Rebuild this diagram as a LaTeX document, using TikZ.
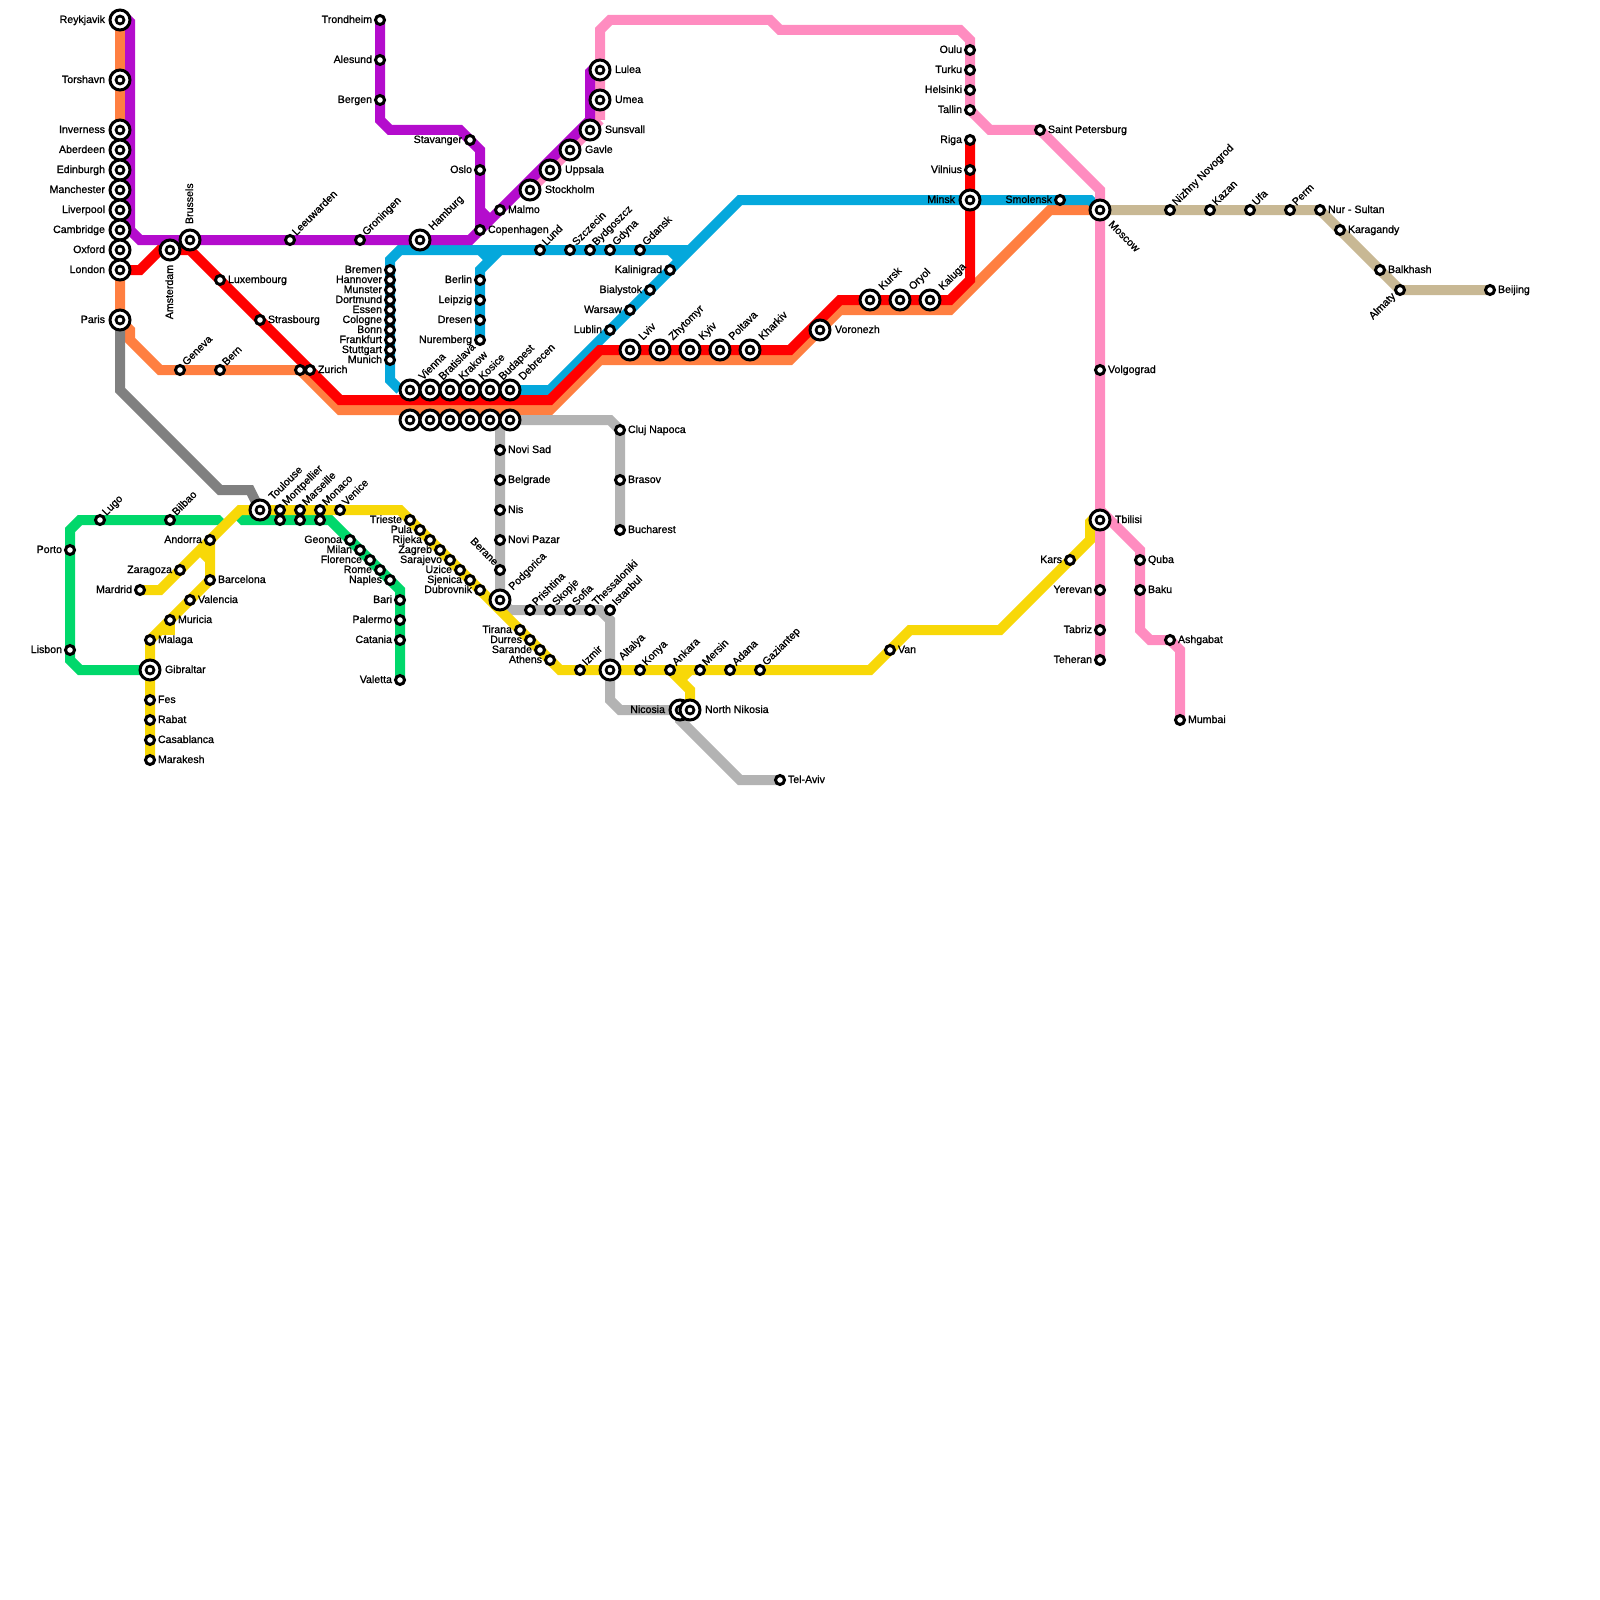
\documentclass[tikz,border=0pt]{standalone}
\usepackage{fontspec}
\newfontfamily\lblfont[FakeBold=1.0]{Liberation Sans}
\pgfdeclarelayer{lines}
\pgfsetlayers{lines,main}
\definecolor{cOrange}{RGB}{255,127,65}
\definecolor{cRed}{RGB}{255,0,0}
\definecolor{cPurple}{RGB}{180,12,205}
\definecolor{cBlue}{RGB}{5,168,220}
\definecolor{cPink}{RGB}{255,140,192}
\definecolor{cGreen}{RGB}{0,216,107}
\definecolor{cYellow}{RGB}{248,216,8}
\definecolor{cGray}{RGB}{128,128,128}
\definecolor{cLight}{RGB}{179,179,179}
\definecolor{cTan}{RGB}{200,184,148}
\tikzset{
  x=1pt,y=-1pt,
  route/.style={line width=10pt,line join=miter,miter limit=10,line cap=butt},
  smst/.style={circle,draw=black,fill=white,line width=3pt,minimum size=9pt,inner sep=0pt,outer sep=0pt},
  bigst/.style={circle,draw=black,fill=white,line width=3pt,minimum size=20pt,inner sep=0pt,outer sep=0pt},
  bigin/.style={circle,draw=black,fill=white,line width=2.7pt,minimum size=8pt,inner sep=0pt,outer sep=0pt},
  lbl/.style={font=\lblfont\fontsize{10.6}{12}\selectfont,text=black,inner sep=0pt,outer sep=0pt},
}
\newcommand{\Sm}[3]{\node[smst] (#1) at (#2,#3) {};}
\newcommand{\Bg}[3]{\node[bigst] (#1) at (#2,#3) {}; \node[bigin] (#1-in) at (#2,#3) {};}
\newcommand{\SR}[4]{\Sm{#1}{#2}{#3}\node[lbl,anchor=base west] (#1-l) at ({#2+8},{#3+3}) {#4};}
\newcommand{\SL}[4]{\Sm{#1}{#2}{#3}\node[lbl,anchor=base east] (#1-l) at ({#2-8},{#3+3}) {#4};}
\newcommand{\SA}[4]{\Sm{#1}{#2}{#3}\node[lbl,anchor=base west,rotate=45] (#1-l) at ({#2+6.5},{#3-4}) {#4};}
\newcommand{\BR}[4]{\Bg{#1}{#2}{#3}\node[lbl,anchor=base west] (#1-l) at ({#2+15},{#3+3}) {#4};}
\newcommand{\BL}[4]{\Bg{#1}{#2}{#3}\node[lbl,anchor=base east] (#1-l) at ({#2-15},{#3+3}) {#4};}
\newcommand{\BA}[4]{\Bg{#1}{#2}{#3}\node[lbl,anchor=base west,rotate=45] (#1-l) at ({#2+13},{#3-9.5}) {#4};}
\begin{document}
\begin{tikzpicture}
\useasboundingbox (0,0) rectangle (1600,1600);
% --- stations
\BL{Reykjavik}{120}{20}{Reykjavik}
\BL{Torshavn}{120}{80}{Torshavn}
\BL{Inverness}{120}{130}{Inverness}
\BL{Aberdeen}{120}{150}{Aberdeen}
\BL{Edinburgh}{120}{170}{Edinburgh}
\BL{Manchester}{120}{190}{Manchester}
\BL{Liverpool}{120}{210}{Liverpool}
\BL{Cambridge}{120}{230}{Cambridge}
\BL{Oxford}{120}{250}{Oxford}
\BL{London}{120}{270}{London}
\BL{Paris}{120}{320}{Paris}
\Bg{Amsterdam}{170}{250}\node[lbl,anchor=base east,rotate=90] (Amsterdam-l) at (173,265) {Amsterdam};
\Bg{Brussels}{190}{240}\node[lbl,anchor=base west,rotate=90] (Brussels-l) at (193,224) {Brussels};
\SR{Luxembourg}{220}{280}{Luxembourg}
\SR{Strasbourg}{260}{320}{Strasbourg}
\SA{Geneva}{180}{370}{Geneva}
\SA{Bern}{220}{370}{Bern}
\Sm{ZurichW}{300}{370}
\SR{Zurich}{310}{370}{Zurich}
\SA{Leeuwarden}{290}{240}{Leeuwarden}
\SA{Groningen}{360}{240}{Groningen}
\BA{Hamburg}{420}{240}{Hamburg}
\SL{Trondheim}{380}{20}{Trondheim}
\SL{Alesund}{380}{60}{Alesund}
\SL{Bergen}{380}{100}{Bergen}
\SL{Stavanger}{470}{140}{Stavanger}
\SL{Oslo}{480}{170}{Oslo}
\SR{Copenhagen}{480}{230}{Copenhagen}
\SR{Malmo}{500}{210}{Malmo}
\BR{Stockholm}{530}{190}{Stockholm}
\BR{Uppsala}{550}{170}{Uppsala}
\BR{Gavle}{570}{150}{Gavle}
\BR{Sunsvall}{590}{130}{Sunsvall}
\BR{Umea}{600}{100}{Umea}
\BR{Lulea}{600}{70}{Lulea}
\SL{Bremen}{390}{270}{Bremen}
\SL{Hannover}{390}{280}{Hannover}
\SL{Munster}{390}{290}{Munster}
\SL{Dortmund}{390}{300}{Dortmund}
\SL{Essen}{390}{310}{Essen}
\SL{Cologne}{390}{320}{Cologne}
\SL{Bonn}{390}{330}{Bonn}
\SL{Frankfurt}{390}{340}{Frankfurt}
\SL{Stuttgart}{390}{350}{Stuttgart}
\SL{Munich}{390}{360}{Munich}
\SL{Berlin}{480}{280}{Berlin}
\SL{Leipzig}{480}{300}{Leipzig}
\SL{Dresen}{480}{320}{Dresen}
\SL{Nuremberg}{480}{340}{Nuremberg}
\SA{Lund}{540}{250}{Lund}
\SA{Szczecin}{570}{250}{Szczecin}
\SA{Bydgoszcz}{590}{250}{Bydgoszcz}
\SA{Gdyna}{610}{250}{Gdyna}
\SA{Gdansk}{640}{250}{Gdansk}
\SL{Kalinigrad}{670}{270}{Kalinigrad}
\SL{Bialystok}{650}{290}{Bialystok}
\SL{Warsaw}{630}{310}{Warsaw}
\SL{Lublin}{610}{330}{Lublin}
\BA{Vienna}{410}{390}{Vienna}
\BA{Bratislava}{430}{390}{Bratislava}
\BA{Krakow}{450}{390}{Krakow}
\BA{Kosice}{470}{390}{Kosice}
\BA{Budapest}{490}{390}{Budapest}
\BA{Debrecen}{510}{390}{Debrecen}
\Bg{LowA}{410}{420}
\Bg{LowB}{430}{420}
\Bg{LowC}{450}{420}
\Bg{LowD}{470}{420}
\Bg{LowE}{490}{420}
\Bg{LowF}{510}{420}
\SR{ClujNapoca}{620}{430}{Cluj Napoca}
\SR{Brasov}{620}{480}{Brasov}
\SR{Bucharest}{620}{530}{Bucharest}
\SR{NoviSad}{500}{450}{Novi Sad}
\SR{Belgrade}{500}{480}{Belgrade}
\SR{Nis}{500}{510}{Nis}
\SR{NoviPazar}{500}{540}{Novi Pazar}
\Sm{Berane}{500}{570}\node[lbl,anchor=base east,rotate=-45] (Berane-l) at (494,566) {Berane};
\BA{Podgorica}{500}{600}{Podgorica}
\SA{Prishtina}{530}{610}{Prishtina}
\SA{Skopje}{550}{610}{Skopje}
\SA{Sofia}{570}{610}{Sofia}
\SA{Thessaloniki}{590}{610}{Thessaloniki}
\SA{Istanbul}{610}{610}{Istanbul}
\SL{Tirana}{520}{630}{Tirana}
\SL{Durres}{530}{640}{Durres}
\SL{Sarande}{540}{650}{Sarande}
\SL{Athens}{550}{660}{Athens}
\SA{Izmir}{580}{670}{Izmir}
\BA{Altalya}{610}{670}{Altalya}
\SA{Konya}{640}{670}{Konya}
\SA{Ankara}{670}{670}{Ankara}
\SA{Mersin}{700}{670}{Mersin}
\SA{Adana}{730}{670}{Adana}
\SA{Gaziantep}{760}{670}{Gaziantep}
\BL{Nicosia}{680}{710}{Nicosia}
\BR{NorthNikosia}{690}{710}{North Nikosia}
\SR{TelAviv}{780}{780}{Tel-Aviv}
\SR{Van}{890}{650}{Van}
\SA{Lugo}{100}{520}{Lugo}
\SA{Bilbao}{170}{520}{Bilbao}
\SL{Porto}{70}{550}{Porto}
\SL{Lisbon}{70}{650}{Lisbon}
\BR{Gibraltar}{150}{670}{Gibraltar}
\SR{Malaga}{150}{640}{Malaga}
\SR{Fes}{150}{700}{Fes}
\SR{Rabat}{150}{720}{Rabat}
\SR{Casablanca}{150}{740}{Casablanca}
\SR{Marakesh}{150}{760}{Marakesh}
\SL{Andorra}{210}{540}{Andorra}
\SL{Zaragoza}{180}{570}{Zaragoza}
\SL{Mardrid}{140}{590}{Mardrid}
\SR{Barcelona}{210}{580}{Barcelona}
\SR{Valencia}{190}{600}{Valencia}
\SR{Muricia}{170}{620}{Muricia}
\BA{Toulouse}{260}{510}{Toulouse}
\SA{Montpellier}{280}{510}{Montpellier}
\SA{Marseille}{300}{510}{Marseille}
\SA{Monaco}{320}{510}{Monaco}
\SA{Venice}{340}{510}{Venice}
\Sm{GreenA}{280}{520}
\Sm{GreenB}{300}{520}
\Sm{GreenC}{320}{520}
\SL{Geonoa}{350}{540}{Geonoa}
\SL{Milan}{360}{550}{Milan}
\SL{Florence}{370}{560}{Florence}
\SL{Rome}{380}{570}{Rome}
\SL{Naples}{390}{580}{Naples}
\SL{Bari}{400}{600}{Bari}
\SL{Palermo}{400}{620}{Palermo}
\SL{Catania}{400}{640}{Catania}
\SL{Valetta}{400}{680}{Valetta}
\SL{Trieste}{410}{520}{Trieste}
\SL{Pula}{420}{530}{Pula}
\SL{Rijeka}{430}{540}{Rijeka}
\SL{Zagreb}{440}{550}{Zagreb}
\SL{Sarajevo}{450}{560}{Sarajevo}
\SL{Uzice}{460}{570}{Uzice}
\SL{Sjenica}{470}{580}{Sjenica}
\SL{Dubrovnik}{480}{590}{Dubrovnik}
\BA{Lviv}{630}{350}{Lviv}
\BA{Zhytomyr}{660}{350}{Zhytomyr}
\BA{Kyiv}{690}{350}{Kyiv}
\BA{Poltava}{720}{350}{Poltava}
\BA{Kharkiv}{750}{350}{Kharkiv}
\BR{Voronezh}{820}{330}{Voronezh}
\BA{Kursk}{870}{300}{Kursk}
\BA{Oryol}{900}{300}{Oryol}
\BA{Kaluga}{930}{300}{Kaluga}
\SL{Oulu}{970}{50}{Oulu}
\SL{Turku}{970}{70}{Turku}
\SL{Helsinki}{970}{90}{Helsinki}
\SL{Tallin}{970}{110}{Tallin}
\SL{Riga}{970}{140}{Riga}
\SL{Vilnius}{970}{170}{Vilnius}
\BL{Minsk}{970}{200}{Minsk}
\SL{Smolensk}{1060}{200}{Smolensk}
\SR{SaintPetersburg}{1040}{130}{Saint Petersburg}
\Bg{Moscow}{1100}{210}\node[lbl,anchor=base west,rotate=-45] (Moscow-l) at (1108,225) {Moscow};
\SA{Nizhny}{1170}{210}{Nizhny Novogrod}
\SA{Kazan}{1210}{210}{Kazan}
\SA{Ufa}{1250}{210}{Ufa}
\SA{Perm}{1290}{210}{Perm}
\SR{NurSultan}{1320}{210}{Nur - Sultan}
\SR{Karagandy}{1340}{230}{Karagandy}
\SR{Balkhash}{1380}{270}{Balkhash}
\Sm{Almaty}{1400}{290}\node[lbl,anchor=base east,rotate=45] (Almaty-l) at (1396,297) {Almaty};
\SR{Beijing}{1490}{290}{Beijing}
\SR{Volgograd}{1100}{370}{Volgograd}
\BR{Tbilisi}{1100}{520}{Tbilisi}
\SL{Kars}{1070}{560}{Kars}
\SL{Yerevan}{1100}{590}{Yerevan}
\SL{Tabriz}{1100}{630}{Tabriz}
\SL{Teheran}{1100}{660}{Teheran}
\SR{Quba}{1140}{560}{Quba}
\SR{Baku}{1140}{590}{Baku}
\SR{Ashgabat}{1170}{640}{Ashgabat}
\SR{Mumbai}{1180}{720}{Mumbai}
% --- free line ends
\coordinate (purpleTop) at (130,20);
\coordinate (purpleEnd) at (490,220);
\coordinate (greenEndW) at (220,520);
\coordinate (greenEndE) at (241,520);
\coordinate (blueHubA) at (690,250);
\coordinate (blueHubB) at (680,260);
\coordinate (blueTopA) at (400,250);
\coordinate (blueBerlin) at (500,250);
\coordinate (blueNotch) at (490,260);
\coordinate (yellowNotch) at (200,550);
\coordinate (yellowFork) at (210,560);
% --- routes
\begin{pgfonlayer}{lines}
\draw[route,cOrange] (Reykjavik.center) -- (Paris.center) -- (130,330) -- (130,340) -- (160,370) -- (300,370) -- (340,410) -- (550,410) -- (600,360) -- (790,360) -- (840,310) -- (950,310) -- (1050,210) -- (Moscow.center);
\draw[route,cGray] (Paris.center) -- (120,390) -- (220,490) -- (250,490) -- (Toulouse.center);
\draw[route,cLight] (LowF.center) -- (610,420) -- (ClujNapoca.center) -- (Bucharest.center);
\draw[route,cLight] (500,420) -- (Podgorica.center) -- (510,610) -- (600,610) -- (610,620) -- (610,700) -- (620,710) -- (Nicosia.center) -- (680,720) -- (740,780) -- (TelAviv.center);
\draw[route,cBlue] (400,390) -- (390,380) -- (390,260) -- (blueTopA) -- (blueHubA);
\draw[route,cBlue] (400,390) -- (Debrecen.center) -- (550,390) -- (740,200) -- (1090,200) -- (Moscow.center);
\draw[route,cBlue] (670,250) -- (blueHubB);
\draw[route,cBlue] (Nuremberg.center) -- (480,270) -- (blueBerlin);
\draw[route,cBlue] (480,250) -- (blueNotch);
\draw[route,cGreen] (Gibraltar.center) -- (80,670) -- (70,660) -- (70,530) -- (80,520) -- (greenEndW);
\fill[cGreen] (220,515) -- (225,520) -- (220,525) -- cycle;
\draw[route,cGreen] (greenEndE) -- (330,520) -- (400,590) -- (Valetta.center);
\fill[cGreen] (241,515) -- (236,520) -- (241,525) -- cycle;
\draw[route,cYellow] (Marakesh.center) -- (Malaga.center) -- (Barcelona.center) -- (Andorra.center);
\draw[route,cYellow] (yellowFork) -- (yellowNotch);
\draw[route,cYellow] (160,630) -- (170,630) -- (Muricia.center);
\draw[route,cYellow] (Mardrid.center) -- (160,590) -- (240,510) -- (400,510) -- (560,670) -- (870,670) -- (910,630) -- (1000,630) -- (1090,540) -- (1090,520);
\fill[cYellow] (1085,520) -- (1090,515) -- (1095,515) -- (1095,520) -- cycle;
\draw[route,cYellow] (Ankara.center) -- (690,690) -- (NorthNikosia.center);
\draw[route,cYellow] (680,680) -- (690,670);
\draw[route,cPink] (600,120) -- (Stockholm.center);
\draw[route,cPink] (600,120) -- (600,30) -- (610,20) -- (770,20) -- (780,30) -- (960,30) -- (970,40) -- (Tallin.center) -- (990,130) -- (SaintPetersburg.center) -- (1100,190) -- (Teheran.center);
\draw[route,cPink] (1100,510) -- (1140,550) -- (1140,630) -- (1150,640) -- (Ashgabat.center) -- (1180,650) -- (Mumbai.center);
\draw[route,cPurple] (purpleTop) -- (130,230) -- (140,240) -- (470,240) -- (590,120) -- (590,70);
\fill[cPurple] (125,20) -- (125,15) -- (130,15) -- (135,20) -- cycle;
\fill[cPurple] (585,70) -- (590,65) -- (595,65) -- (595,70) -- cycle;
\draw[route,cPurple] (Trondheim.center) -- (380,120) -- (390,130) -- (460,130) -- (480,150) -- (480,210) -- (purpleEnd);
\draw[route,cPurple] (480,210) -- (Copenhagen.center);
\draw[route,cRed] (London.center) -- (140,270) -- (160,250) -- (190,250) -- (340,400) -- (550,400) -- (600,350) -- (790,350) -- (840,300) -- (950,300) -- (970,280) -- (Riga.center);
\draw[route,cTan] (Moscow.center) -- (NurSultan.center) -- (Almaty.center) -- (Beijing.center);
\end{pgfonlayer}
\end{tikzpicture}
\end{document}
